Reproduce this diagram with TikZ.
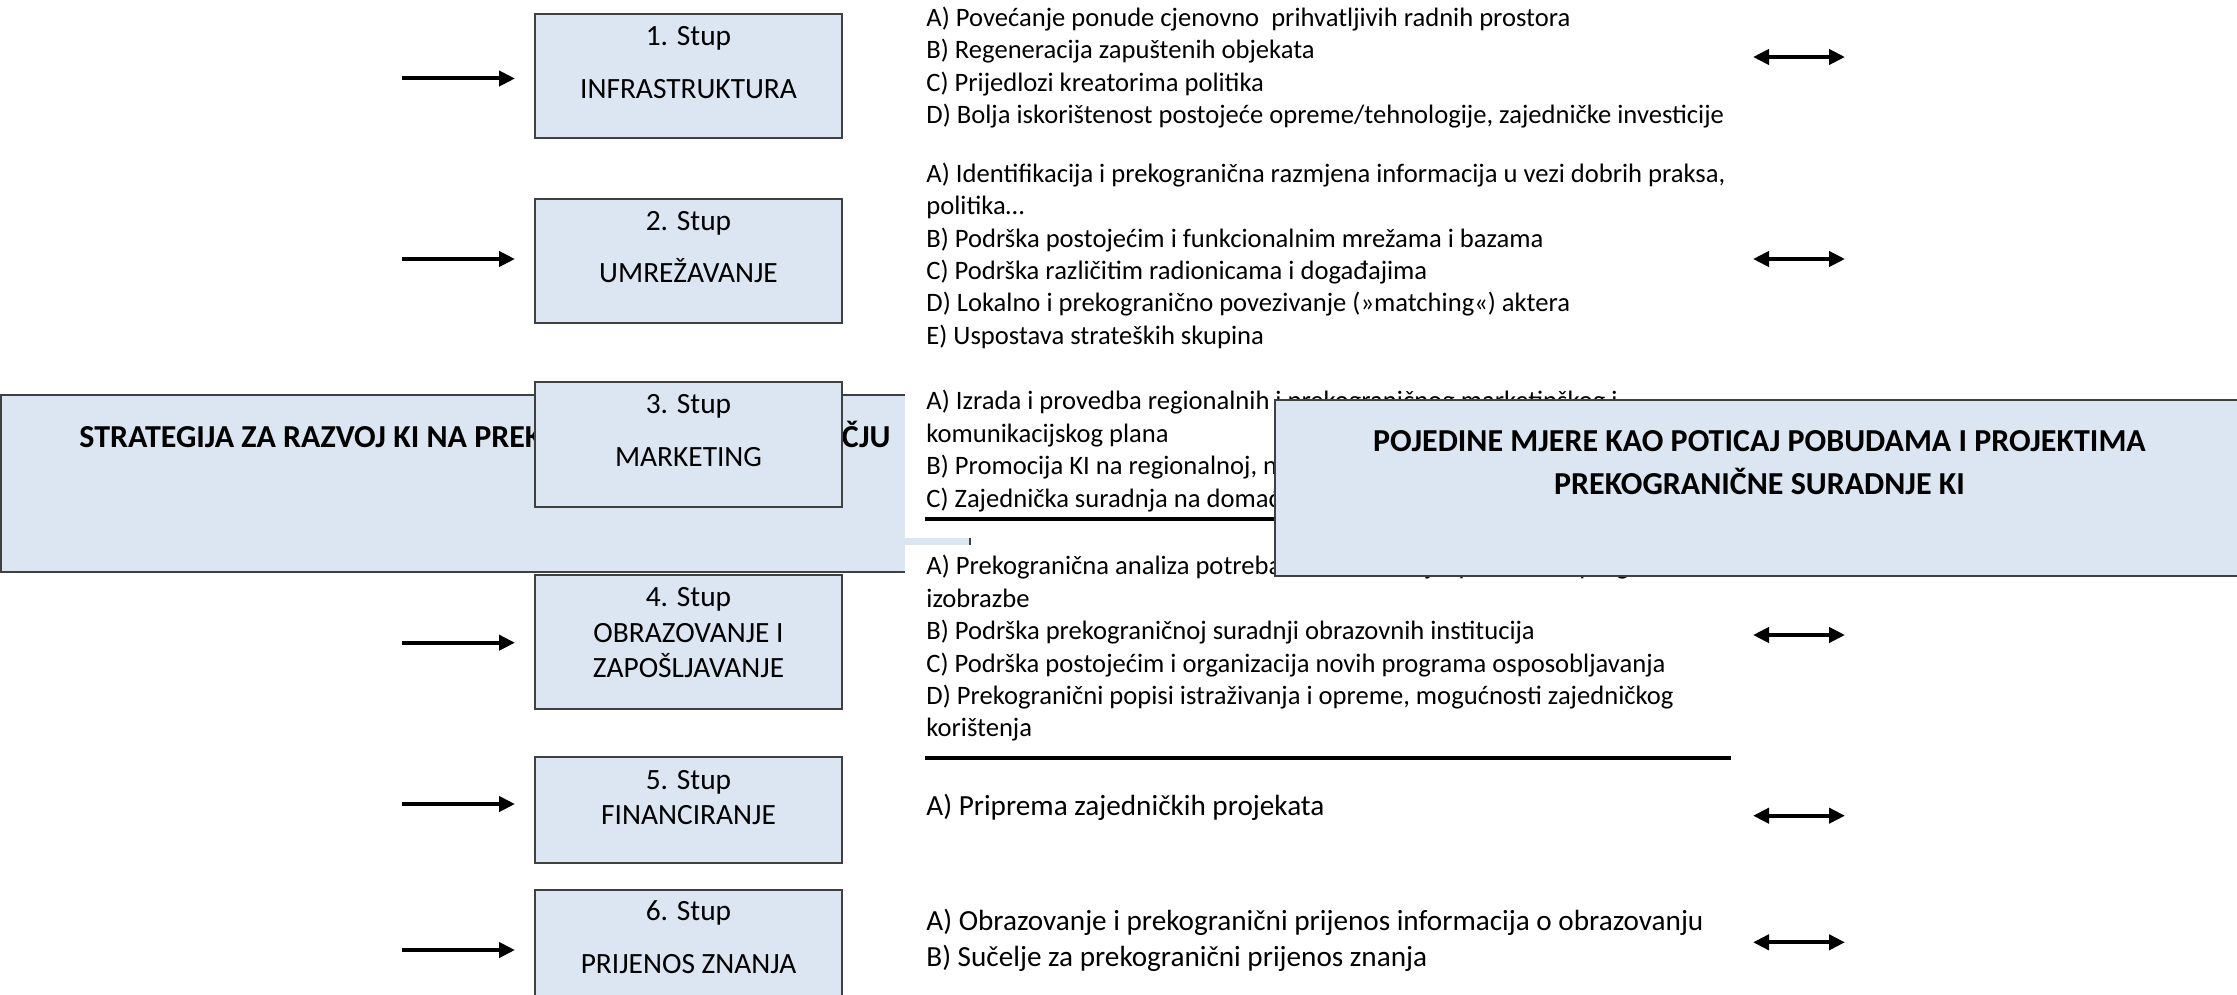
\documentclass[tikz,border=0pt]{standalone}
\usepackage{fontspec}
\setmainfont{Carlito}
\usetikzlibrary{arrows.meta}
\definecolor{boxfill}{RGB}{220,230,242}
\definecolor{boxline}{RGB}{64,64,64}
\begin{document}
\begin{tikzpicture}[x=0.5pt,y=-0.5pt,
  stupbox/.style={draw=boxline, line width=1pt, fill=boxfill, minimum width=153.5pt, inner sep=0pt, outer sep=0pt},
  bigbox/.style={draw=boxline, line width=1pt, fill=boxfill, inner sep=0pt, outer sep=0pt},
  stuptxt/.style={anchor=base, inner sep=0pt, font=\fontsize{14.7}{17.5}\selectfont},
  titletxt/.style={anchor=base, inner sep=0pt, font=\fontsize{16}{20}\selectfont\bfseries},
  listtxt/.style={anchor=north west, inner sep=0pt, align=left, font=\fontsize{13.3}{16.2}\selectfont},
  listbig/.style={anchor=north west, inner sep=0pt, align=left, font=\fontsize{14.6}{18}\selectfont},
  arr/.style={line width=2pt, -{Triangle[length=8pt,width=7.5pt]}},
  darr/.style={line width=2pt, {Triangle[length=8pt,width=7.5pt]}-{Triangle[length=8pt,width=7.5pt]}},
  rulestyle/.style={line width=2pt},
  whitebox/.style={fill=white, inner sep=0pt, outer sep=0pt, anchor=north west, minimum width=187.5pt}
]
\useasboundingbox (0,0) rectangle (2237,995);

% big left box
\node[bigbox, minimum width=484.5pt, minimum height=88.5pt] (strat) at (485.5,483.5) {};
\node[titletxt] (strattxt) at (485,447) {STRATEGIJA ZA RAZVOJ KI NA PREKOGRANIČNOM PODRUČJU};

% pillar boxes
\node[stupbox, minimum height=62pt] (b1) at (688.5,76) {};
\node[stuptxt] (b1a) at (688.5,45.7) {1. Stup};
\node[stuptxt] (b1b) at (688.5,99) {INFRASTRUKTURA};

\node[stupbox, minimum height=62.4pt] (b2) at (688.5,261) {};
\node[stuptxt] (b2a) at (688.5,230) {2. Stup};
\node[stuptxt] (b2b) at (688.5,282.5) {UMREŽAVANJE};

\node[stupbox, minimum height=62.7pt] (b3) at (688.5,444.3) {};
\node[stuptxt] (b3a) at (688.5,413.5) {3. Stup};
\node[stuptxt] (b3b) at (688.5,466) {MARKETING};

\node[stupbox, minimum height=67pt] (b4) at (688.5,642) {};
\node[stuptxt] (b4a) at (688.5,606) {4. Stup};
\node[stuptxt] (b4b) at (688.5,642.5) {OBRAZOVANJE I};
\node[stuptxt] (b4c) at (688.5,677.5) {ZAPOŠLJAVANJE};

\node[stupbox, minimum height=53pt] (b5) at (688.5,810) {};
\node[stuptxt] (b5a) at (688.5,789) {5. Stup};
\node[stuptxt] (b5b) at (688.5,824.5) {FINANCIRANJE};

\node[stupbox, minimum height=62.5pt] (b6) at (688.5,952.5) {};
\node[stuptxt] (b6a) at (688.5,920.5) {6. Stup};
\node[stuptxt] (b6b) at (688.5,973.5) {PRIJENOS ZNANJA};

% input arrows
\coordinate (s1) at (402,78.5);
\coordinate (s2) at (402,259);
\coordinate (s4) at (402,642.7);
\coordinate (s5) at (402,804);
\coordinate (s6) at (402,950);
\draw[arr, shorten >=10pt] (s1) -- (s1 -| b1.west);
\draw[arr, shorten >=10pt] (s2) -- (s2 -| b2.west);
\draw[arr, shorten >=10pt] (s4) -- (s4 -| b4.west);
\draw[arr, shorten >=10pt] (s5) -- (s5 -| b5.west);
\draw[arr, shorten >=10pt] (s6) -- (s6 -| b6.west);

% white text panels
\node[whitebox, minimum height=80pt] (wb3) at (905,378) {};
\node[whitebox, minimum height=112.5pt] (wb4) at (905,545) {};

% text blocks
\node[listtxt] (t1) at (926,3.3) {\strut A) Povećanje ponude cjenovno\ \ prihvatljivih radnih prostora\\
\strut B) Regeneracija zapuštenih objekata\\
\strut C) Prijedlozi kreatorima politika\\
\strut D) Bolja iskorištenost postojeće opreme/tehnologije, zajedničke investicije};

\node[listtxt] (t2) at (926,159.3) {\strut A) Identifikacija i prekogranična razmjena informacija u vezi dobrih praksa,\\
\strut politika…\\
\strut B) Podrška postojećim i funkcionalnim mrežama i bazama\\
\strut C) Podrška različitim radionicama i događajima\\
\strut D) Lokalno i prekogranično povezivanje (»matching«) aktera\\
\strut E) Uspostava strateških skupina};

\node[listtxt] (t3) at (926,386.8) {\strut A) Izrada i provedba regionalnih i prekograničnog marketinškog i\\
\strut komunikacijskog plana\\
\strut B) Promocija KI na regionalnoj, nacionalnoj i međunarodnoj razini\\
\strut C) Zajednička suradnja na domaćim i stranim sajmovima};

\node[listtxt] (t4) at (926,551.8) {\strut A) Prekogranična analiza potreba malih i srednjih poduzeća i programa\\
\strut izobrazbe\\
\strut B) Podrška prekograničnoj suradnji obrazovnih institucija\\
\strut C) Podrška postojećim i organizacija novih programa osposobljavanja\\
\strut D) Prekogranični popisi istraživanja i opreme, mogućnosti zajedničkog\\
\strut korištenja};

\node[listbig] (t5) at (926,789.8) {\strut A) Priprema zajedničkih projekata};

\node[listbig] (t6) at (926,904.8) {\strut A) Obrazovanje i prekogranični prijenos informacija o obrazovanju\\
\strut B) Sučelje za prekogranični prijenos znanja};

% rules
\coordinate (r3l) at (925,519);
\coordinate (r3r) at (1731,519);
\coordinate (r4l) at (925,757.7);
\coordinate (r4r) at (1731,757.7);
\draw[rulestyle] (r3l) -- (r3r);
\draw[rulestyle] (r4l) -- (r4r);

% right box
\node[bigbox, minimum width=484.5pt, minimum height=88pt] (mjere) at (1759.5,488) {};
\node[titletxt] (mjere1) at (1759.5,451) {POJEDINE MJERE KAO POTICAJ POBUDAMA I PROJEKTIMA};
\node[titletxt] (mjere2) at (1759.5,494.8) {PREKOGRANIČNE SURADNJE KI};

% double arrows
\coordinate (d1l) at (1753,57);   \coordinate (d1r) at (1845,57);
\coordinate (d2l) at (1753,259);  \coordinate (d2r) at (1845,259);
\coordinate (d4l) at (1753,635);  \coordinate (d4r) at (1845,635);
\coordinate (d5l) at (1753,815.7);\coordinate (d5r) at (1845,815.7);
\coordinate (d6l) at (1753,942.3);\coordinate (d6r) at (1845,942.3);
\draw[darr] (d1l) -- (d1r);
\draw[darr] (d2l) -- (d2r);
\draw[darr] (d4l) -- (d4r);
\draw[darr] (d5l) -- (d5r);
\draw[darr] (d6l) -- (d6r);
\end{tikzpicture}
\end{document}
